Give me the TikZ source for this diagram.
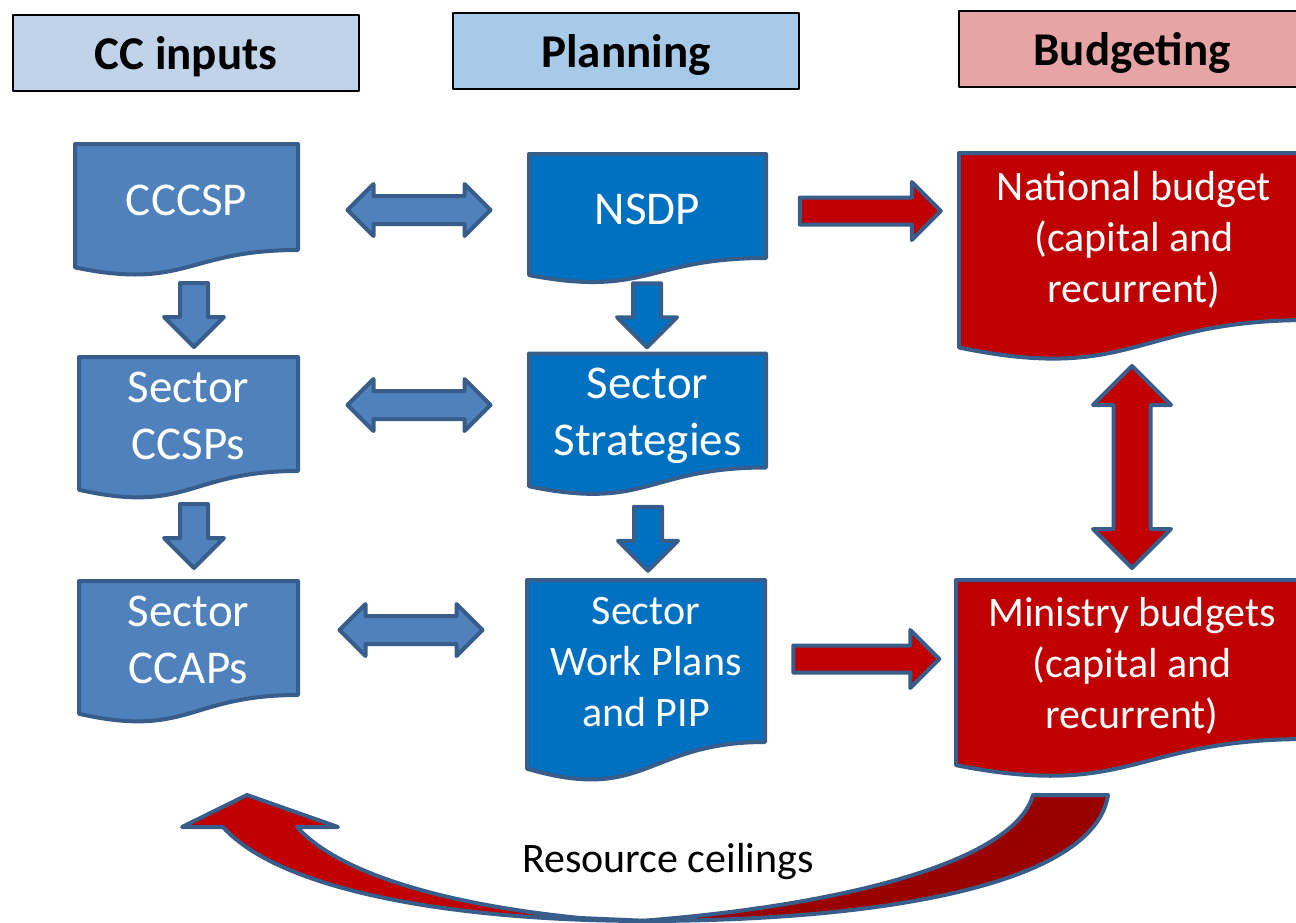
\documentclass[tikz,border=0pt]{standalone}
\usepackage{fontspec}
\setmainfont{Carlito}
\usepackage{tikz}
\usetikzlibrary{calc,shapes.arrows}
\definecolor{hdrcc}{rgb}{0.757,0.827,0.914}
\definecolor{hdrpl}{rgb}{0.651,0.792,0.910}
\definecolor{hdrbu}{rgb}{0.902,0.643,0.643}
\definecolor{ccblue}{rgb}{0.31,0.506,0.741}
\definecolor{plblue}{rgb}{0.,0.439,0.753}
\definecolor{budred}{rgb}{0.753,0.,0.}
\definecolor{backred}{rgb}{0.6,0.,0.}
\definecolor{edgeblue}{rgb}{0.22,0.365,0.541}
\pgfdeclarelayer{background}
\pgfsetlayers{background,main}
\tikzset{
  hdr/.style={draw=black,line width=1.8pt,minimum width=346pt,minimum height=76pt,inner sep=0pt,outer sep=0pt,font=\fontsize{47}{57}\selectfont\bfseries},
  doc/.style={rectangle,inner sep=0pt,outer sep=0pt,text=white,font=\fontsize{47}{57}\selectfont},
  docsmall/.style={doc,font=\fontsize{42}{51}\selectfont},
  docline/.style={draw=edgeblue,line width=4pt,line join=round},
  dblarrow/.style={docline,double arrow,double arrow head extend=12pt,inner xsep=0pt,inner ysep=12pt,outer sep=0pt},
  onearrow/.style={docline,single arrow,inner xsep=0pt,outer sep=0pt}
}
% text lowered inside its node, the node keeps its size
\newcommand{\downby}[2]{\raisebox{-#1}[\height][\depth]{\begin{tabular}{@{}c@{}}#2\end{tabular}}}
\newcommand{\docshape}[2]{%
  \draw[docline,fill=#2] (#1.north west) -- (#1.north east) -- (#1.south east)
    .. controls (#1.south) and ($(#1.north)!1.381!(#1.south)$) .. ($(#1.north west)!1.1646!(#1.south west)$) -- cycle;}
\begin{document}
\begin{tikzpicture}[line cap=round,line join=round,x=1pt,y=-1pt]
\useasboundingbox (0,0) rectangle (1296,922);
\clip (0,0) rectangle (1296,922);
\node[hdr,fill=hdrcc] (ccin) at (186,53) {\downby{5.5pt}{CC inputs}};
\node[hdr,fill=hdrpl] (plan) at (626,51) {\downby{5.5pt}{Planning}};
\node[hdr,fill=hdrbu] (budg) at (1132,49) {\downby{5.5pt}{Budgeting}};
\node[doc,minimum width=223pt,minimum height=106pt] (cccsp) at (186.5,197) {\downby{7pt}{CCCSP}};
\node[doc,minimum width=219pt,minimum height=106pt] (ccsps) at (188.5,414) {\downby{5.5pt}{Sector\\CCSPs}};
\node[doc,minimum width=219pt,minimum height=106pt] (ccaps) at (188.5,638) {\downby{5.5pt}{Sector\\CCAPs}};
\node[doc,minimum width=237pt,minimum height=104pt] (nsdp) at (647.5,206) {\downby{7pt}{NSDP}};
\node[doc,minimum width=237pt,minimum height=107pt] (strat) at (647.5,410.5) {\downby{5.5pt}{Sector\\Strategies}};
\node[docsmall,minimum width=238pt,minimum height=162pt] (plans) at (646,661) {\downby{4.5pt}{Sector\\Work Plans\\and PIP}};
\node[docsmall,minimum width=350pt,minimum height=167pt] (natb) at (1134,236.5) {\downby{5pt}{National budget\\(capital and\\recurrent)}};
\node[docsmall,minimum width=352pt,minimum height=159pt] (minb) at (1132,659.5) {\downby{7.5pt}{Ministry budgets\\(capital and\\recurrent)}};
\begin{pgfonlayer}{background}
\docshape{cccsp}{ccblue}
\docshape{ccsps}{ccblue}
\docshape{ccaps}{ccblue}
\docshape{nsdp}{plblue}
\docshape{strat}{plblue}
\docshape{plans}{plblue}
\docshape{natb}{budred}
\docshape{minb}{budred}
\end{pgfonlayer}
\node[dblarrow,fill=ccblue,minimum height=143pt] (a1) at ($(cccsp.east)!.5!(nsdp.west)+(5.5,8.5)$) {};
\node[dblarrow,fill=ccblue,minimum height=143pt] (a2) at ($(ccsps.east)!.5!(strat.west)+(5.5,-7.25)$) {};
\node[dblarrow,fill=ccblue,minimum height=143pt] (a3) at ($(ccaps.east)!.5!(plans.west)+(-1.5,-19.5)$) {};
\node[onearrow,fill=ccblue,rotate=-90,minimum height=64pt,inner ysep=12pt,single arrow head extend=16pt] (d1) at ($(cccsp.south)!.5!(ccsps.north)+(6.5,4.5)$) {};
\node[onearrow,fill=ccblue,rotate=-90,minimum height=64pt,inner ysep=12pt,single arrow head extend=16pt] (d2) at ($(ccsps.south)!.5!(ccaps.north)+(5.5,3)$) {};
\node[onearrow,fill=plblue,rotate=-90,minimum height=64pt,inner ysep=12pt,single arrow head extend=16pt] (d3) at ($(nsdp.south)!.5!(strat.north)+(-0.5,2.5)$) {};
\node[onearrow,fill=plblue,rotate=-90,minimum height=64pt,inner ysep=12pt,single arrow head extend=16pt] (d4) at ($(strat.south)!.5!(plans.north)+(1.25,8)$) {};
\node[onearrow,fill=budred,minimum height=141pt,inner ysep=11.5pt,single arrow head extend=15.5pt] (r1) at ($(nsdp.east)!.5!(natb.west)+(1,-10.25)$) {};
\node[onearrow,fill=budred,minimum height=146pt,inner ysep=11.5pt,single arrow head extend=15.5pt] (r2) at ($(plans.east)!.5!(minb.west)+(-1,-1.25)$) {};
\node[dblarrow,fill=budred,rotate=90,minimum height=202pt,inner ysep=16.5pt,double arrow head extend=20.5pt] (v1) at ($(natb.south)!.5!(minb.north)+(-1,17)$) {};
\draw[docline,fill=backred] (1108,795) .. controls (1095,880) and (900,921) .. (640,921) .. controls (850,905) and (1015,860) .. (1033,795) -- cycle;
\draw[docline,fill=budred] (247,795) -- (338,827) -- (297,827) .. controls (340,875) and (450,905) .. (580,918) -- (650,921) .. controls (450,921) and (280,890) .. (223,827) -- (182,827) -- cycle;
\node[font=\fontsize{42}{51}\selectfont] (ceil) at (668,858) {\downby{4pt}{Resource ceilings}};
\end{tikzpicture}
\end{document}
